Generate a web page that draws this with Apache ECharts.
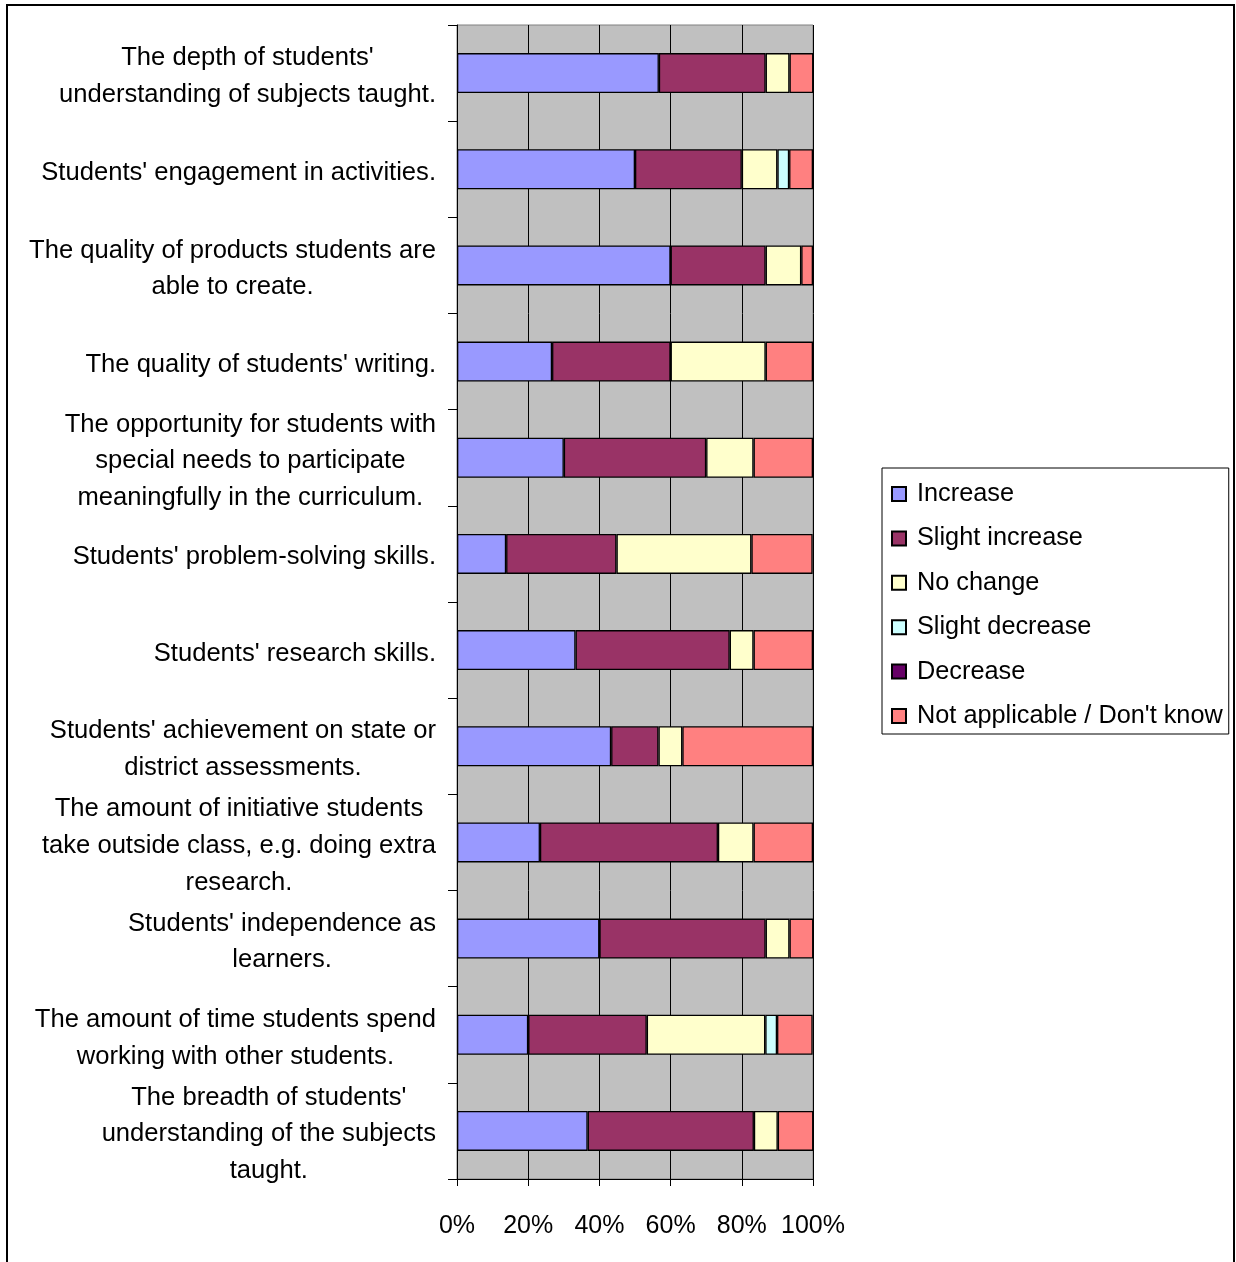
<!DOCTYPE html>
<html>
<head>
<meta charset="utf-8">
<title>Perceived changes in student outcomes</title>
<script src="https://cdn.jsdelivr.net/npm/echarts@6/dist/echarts.min.js"></script>
<style>
  html, body { margin: 0; padding: 0; background: #ffffff; }
  #chart { width: 1236px; height: 1262px; }
</style>
</head>
<body>
<div id="chart"></div>
<script>
// Survey items (top to bottom)
const categories = [
  "The depth of students'\nunderstanding of subjects taught.",
  "Students' engagement in activities.",
  "The quality of products students are\nable to create.",
  "The quality of students' writing.",
  "The opportunity for students with\nspecial needs to participate\nmeaningfully in the curriculum.",
  "Students' problem-solving skills.",
  "Students' research skills.",
  "Students' achievement on state or\ndistrict assessments.",
  "The amount of initiative students\ntake outside class, e.g. doing extra\nresearch.",
  "Students' independence as\nlearners.",
  "The amount of time students spend\nworking with other students.",
  "The breadth of students'\nunderstanding of the subjects\ntaught."
];

// Share of responses per item, in percent
const increase       = [56.7, 50.0, 60.0, 26.7, 30.0, 13.8, 33.3, 43.3, 23.3, 40.0, 20.0, 36.7];
const slightIncrease = [30.0, 30.0, 26.7, 33.3, 40.0, 31.0, 43.3, 13.3, 50.0, 46.7, 33.3, 46.7];
const noChange       = [ 6.7, 10.0, 10.0, 26.7, 13.3, 37.9,  6.7,  6.7, 10.0,  6.7, 33.3,  6.7];
const slightDecrease = [ 0.0,  3.3,  0.0,  0.0,  0.0,  0.0,  0.0,  0.0,  0.0,  0.0,  3.3,  0.0];
const decrease       = [ 0.0,  0.0,  0.0,  0.0,  0.0,  0.0,  0.0,  0.0,  0.0,  0.0,  0.0,  0.0];
const notApplicable  = [ 6.7,  6.7,  3.3, 13.3, 16.7, 17.2, 16.7, 36.7, 16.7,  6.7, 10.0, 10.0];

const xTicks = [0, 20, 40, 60, 80, 100];

const seriesDefs = [
  { name: 'Increase', data: increase, color: '#9999FF' },
  { name: 'Slight increase', data: slightIncrease, color: '#993366' },
  { name: 'No change', data: noChange, color: '#FFFFCC' },
  { name: 'Slight decrease', data: slightDecrease, color: '#CCFFFF' },
  { name: 'Decrease', data: decrease, color: '#660066' },
  { name: 'Not applicable / Don\'t know', data: notApplicable, color: '#FF8080' }
];

const FONT = "'Liberation Sans', Arial, sans-serif";

const chart = echarts.init(document.getElementById('chart'), null, { renderer: 'canvas' });

chart.setOption({
  backgroundColor: '#ffffff',
  animation: false,
  textStyle: { fontFamily: FONT, color: '#000' },
  graphic: [{
    type: 'rect',
    silent: true,
    shape: { x: 7, y: 5, width: 1227, height: 1272 },
    style: { fill: 'none', stroke: '#000', lineWidth: 2 }
  }],
  grid: {
    left: 457, top: 25, width: 356, height: 1154,
    show: true,
    backgroundColor: '#C0C0C0',
    borderColor: '#808080',
    borderWidth: 1,
    containLabel: false
  },
  legend: {
    orient: 'vertical',
    left: 882, top: 468,
    padding: [11, 6, 3, 9],
    itemWidth: 14, itemHeight: 14,
    itemGap: 14.4,
    backgroundColor: '#ffffff',
    borderColor: '#000',
    borderWidth: 1,
    icon: 'rect',
    textStyle: { fontFamily: FONT, fontSize: 25.3, color: '#000', lineHeight: 30, padding: [0, 0, 0, 6] },
    data: seriesDefs.map(s => s.name)
  },
  xAxis: {
    type: 'value',
    min: xTicks[0], max: xTicks[xTicks.length - 1], interval: xTicks[1] - xTicks[0],
    axisLine: { show: true, lineStyle: { color: '#000', width: 1 } },
    axisTick: { show: true, length: 7, lineStyle: { color: '#000' } },
    axisLabel: { formatter: '{value}%', fontFamily: FONT, fontSize: 25, color: '#000', margin: 35 },
    splitLine: { show: true, lineStyle: { color: '#000', width: 1 } }
  },
  yAxis: {
    type: 'category',
    inverse: true,
    data: categories,
    axisLine: { show: true, lineStyle: { color: '#000', width: 1 } },
    axisTick: { show: true, length: 9, interval: 0, lineStyle: { color: '#000' } },
    axisLabel: {
      interval: 0,
      margin: 21,
      padding: [7, 0, 0, 0],
      fontFamily: FONT,
      fontSize: 25.6,
      color: '#000',
      align: 'right',
      formatter: v => v.split('\n').map(line => '{c|' + line + '}').join('\n'),
      rich: { c: { align: 'center', fontFamily: FONT, fontSize: 25.6, lineHeight: 36.7, color: '#000' } }
    }
  },
  series: seriesDefs.map(s => ({
    name: s.name,
    type: 'bar',
    stack: 'total',
    barWidth: 40,
    data: s.data.map(v => (v === 0 ? null : v)),
    itemStyle: { color: s.color, borderColor: '#000', borderWidth: 1.3 }
  }))
});
</script>
</body>
</html>
